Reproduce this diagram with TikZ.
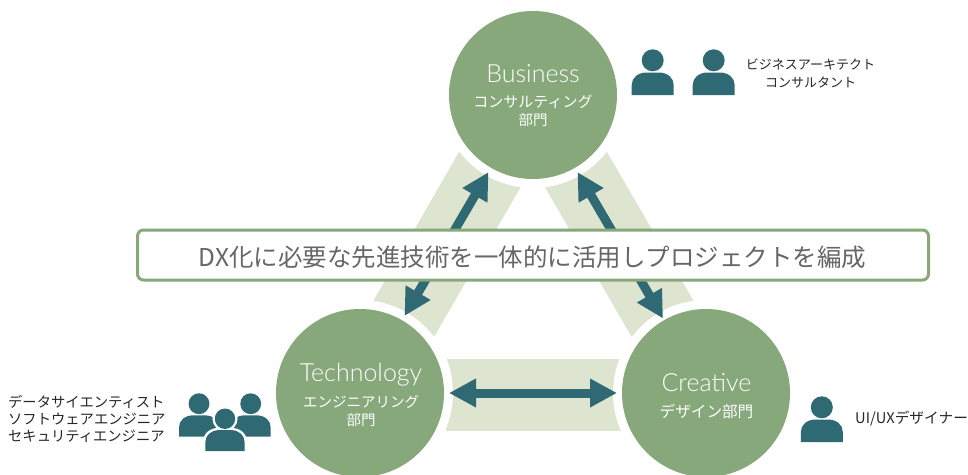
\documentclass[tikz,border=0pt]{standalone}
\usepackage{fontspec}
\usetikzlibrary{arrows.meta}
\setmainfont{Lato}
\newfontfamily\cjk{Noto Sans CJK JP}
\newfontfamily\lat{Lato}[UprightFont=* Light]
\definecolor{dept}{HTML}{86A87A}
\definecolor{band}{HTML}{DDE4CF}
\definecolor{teal}{HTML}{2F6973}
\definecolor{ink}{HTML}{262626}
\definecolor{grey}{HTML}{666666}
\tikzset{
  dept/.style={circle,fill=dept,minimum size=168pt,inner sep=0pt,outer sep=0pt},
  bandfill/.style={fill=band},
  halo/.style={fill=white},
  link/.style={draw=teal,line width=9pt,{Triangle[width=27pt,length=27pt]}-{Triangle[width=27pt,length=27pt]}},
  title/.style={inner sep=0pt,text=white,font=\lat\fontsize{25}{25}\selectfont},
  sub/.style={inner sep=0pt,text=white,font=\cjk\fontsize{14.5}{14.5}\selectfont},
  role/.style={inner sep=0pt,text=ink,font=\cjk\fontsize{13}{13}\selectfont},
  rolewide/.style={role,anchor=west,font=\cjk\fontsize{14.3}{14.3}\selectfont},
  banner/.style={draw=dept,line width=3pt,fill=white,rounded corners=6pt,minimum width=791pt,minimum height=50pt,inner sep=0pt,outer sep=0pt},
  bannertext/.style={inner sep=0pt,text=grey,font=\cjk\fontsize{24.5}{24.5}\selectfont},
  person/.pic={
    \fill[teal] (-21,0) -- (-21,-10) .. controls (-21,-17) and (-15,-22.5) .. (-6,-22.5) -- (6,-22.5) .. controls (15,-22.5) and (21,-17) .. (21,-10) -- (21,0) -- cycle;
    \fill[teal] (0,-34.7) circle[radius=11pt];
  },
  personhalo/.pic={
    \fill[white] (-23.5,2.5) -- (-23.5,-10) .. controls (-23.5,-19) and (-16,-25) .. (-6,-25) -- (6,-25) .. controls (16,-25) and (23.5,-19) .. (23.5,-10) -- (23.5,2.5) -- cycle;
    \fill[white] (0,-34.7) circle[radius=13.5pt];
  },
}
\begin{document}
\begin{tikzpicture}[x=1pt,y=-1pt]
\useasboundingbox (0,0) rectangle (968,474);
\clip (0,0) rectangle (968,474);
\coordinate (cb) at (533,95);
\coordinate (ct) at (360,393);
\coordinate (cc) at (706,393);
% bands
\fill[bandfill] (459,152) -- (520.7,187) -- (434,337) -- (372.7,302) -- cycle;
\fill[bandfill] (545,187.3) -- (606.7,151.7) -- (695,303.3) -- (632.3,338) -- cycle;
\fill[bandfill] (446,358.6) rectangle (621,431);
\fill[halo] (cb) circle[radius=93pt];
\fill[halo] (ct) circle[radius=93pt];
\fill[halo] (cc) circle[radius=93pt];
% departments
\node[dept] (business) at (cb) {};
\node[dept] (technology) at (ct) {};
\node[dept] (creative) at (cc) {};
% connectors
\draw[link,shorten <=5pt,shorten >=5pt] (business.240) -- (technology.60);
\draw[link,shorten <=5pt,shorten >=2pt] (business.300) -- (creative.120);
\draw[link,shorten <=5pt,shorten >=5pt] (technology.0) -- (creative.180);
% banner
\node[banner] (bar) at (533,255) {};
\node[bannertext] (bartext) at (532.5,257.5) {DX化に必要な先進技術を一体的に活用しプロジェクトを編成};
% circle labels
\node[title] (t1) at (533,74) {Business};
\node[sub,font=\cjk\fontsize{15}{15}\selectfont] (s1a) at (533,101.7) {コンサルティング};
\node[sub] (s1b) at (533,120.5) {部門};
\node[title] (t2) at (361,374.5) {Technology};
\node[sub] (s2a) at (361,401.7) {エンジニアリング};
\node[sub] (s2b) at (361,420) {部門};
\node[title] (t3) at (706.5,382.5) {Creative};
\node[sub,font=\cjk\fontsize{15.6}{15.6}\selectfont] (s3a) at (706.5,411.5) {デザイン部門};
% people
\pic at (652.7,95) {person};
\pic at (713.7,95) {person};
\pic at (821.8,442) {person};
\pic[scale=0.95] at (199,436.7) {person};
\pic[scale=0.95] at (250.7,436.7) {person};
\pic[scale=0.93] at (225,451) {personhalo};
\pic[scale=0.93] at (225,451) {person};
% role labels
\node[role] (r1) at (810.5,64.5) {ビジネスアーキテクト};
\node[role] (r2) at (810.5,82.5) {コンサルタント};
\node[rolewide] (r3) at (8,401.7) {データサイエンティスト};
\node[rolewide] (r4) at (8,419.3) {ソフトウェアエンジニア};
\node[rolewide] (r5) at (8,436.7) {セキュリティエンジニア};
\node[role,anchor=west,font=\cjk\fontsize{14.7}{14.7}\selectfont] (r6) at (855,419) {UI/UXデザイナー};
\end{tikzpicture}
\end{document}
